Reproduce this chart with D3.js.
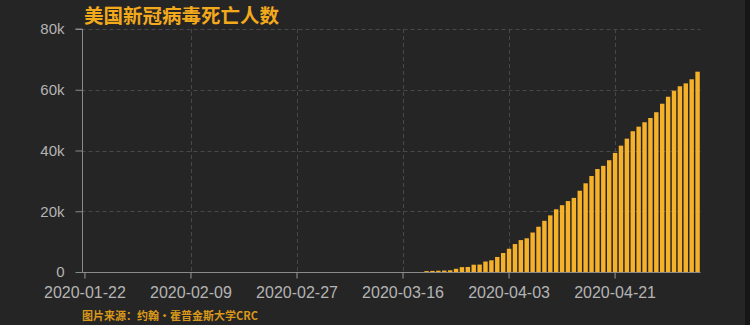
<!DOCTYPE html>
<html>
<head>
<meta charset="utf-8">
<script src="https://cdn.jsdelivr.net/npm/d3@7"></script>
<style>
    body { margin: 0; background: #252525; }
    svg { display: block; }
    text { font-family: "Liberation Sans", Arial, sans-serif; }
    .cjk { font-family: "Noto Sans CJK SC", sans-serif; }
</style>
</head>
<body>
<div id="chart"></div>
<script>
// first and last day shown, one bar per day
const startDate = '2020-01-22';
const endDate = '2020-05-05';

// cumulative deaths (one value per day)
const deaths = [
    0, 0, 0, 0, 0, 0, 0, 0, 0, 0,
    0, 0, 0, 0, 0, 0, 0, 0, 0, 0,
    0, 0, 0, 0, 0, 0, 0, 0, 0, 0,
    0, 0, 0, 0, 0, 0, 0, 0, 0, 0,
    0, 0, 0, 0, 0, 0, 0, 0, 0, 0,
    0, 0, 0, 0, 0, 0, 0, 0, 300, 360,
    420, 480, 560, 1050, 1600, 1650, 2400, 2450, 3450, 3850,
    4950, 6250, 7650, 9200, 10500, 11100, 13000, 14900, 16850, 18650,
    20650, 22000, 23350, 24400, 26750, 29200, 31600, 33900, 34950, 36800,
    39200, 41600, 43900, 46350, 47850, 49300, 50700, 52600, 55400, 57700,
    59700, 61150, 62100, 63450, 65950
];

const xTickLabels = ['2020-01-22', '2020-02-09', '2020-02-27', '2020-03-16', '2020-04-03', '2020-04-21'];
const yTicks = [0, 20000, 40000, 60000, 80000];

const titleText = '美国新冠病毒死亡人数';
const sourceText = '图片来源：约翰·霍普金斯大学CRC';

const config = { width: 750, height: 325 };
const margin = { left: 82, right: 49.5, top: 29, bottom: 53 };

const fmt = d3.utcFormat('%Y-%m-%d');
const dates = d3.utcDay.range(new Date(startDate), d3.utcDay.offset(new Date(endDate), 1)).map(fmt);
const data = dates.map((d, i) => ({ date: d, value: deaths[i] }));

const svg = d3.select('#chart')
    .append('svg')
    .attr('width', config.width)
    .attr('height', config.height);

svg.append('rect')
    .attr('width', config.width)
    .attr('height', config.height)
    .attr('fill', '#252525');

// dark strip on the far right edge
svg.append('rect')
    .attr('x', 745)
    .attr('width', 5)
    .attr('height', config.height)
    .attr('fill', '#161616');

const x = d3.scaleBand()
    .domain(dates)
    .range([margin.left, config.width - margin.right])
    .paddingInner(0.25)
    .paddingOuter(0.125);

const y = d3.scaleLinear()
    .domain([0, 80000])
    .range([config.height - margin.bottom, margin.top]);

const xc = d => x(d) + x.bandwidth() / 2;
const x0 = margin.left - 0.5;
const x1 = config.width - margin.right;
const yBase = y(0);

// grid
const grid = svg.append('g')
    .attr('stroke', '#484848')
    .attr('stroke-width', 1)
    .attr('stroke-dasharray', '4,3');

grid.selectAll('.hgrid')
    .data(yTicks.filter(d => d > 0))
    .join('line')
    .attr('class', 'hgrid')
    .attr('x1', x0)
    .attr('x2', x1)
    .attr('y1', d => Math.round(y(d)) + 0.5)
    .attr('y2', d => Math.round(y(d)) + 0.5);

grid.selectAll('.vgrid')
    .data(xTickLabels.slice(1))
    .join('line')
    .attr('class', 'vgrid')
    .attr('x1', d => Math.round(xc(d)) + 0.5)
    .attr('x2', d => Math.round(xc(d)) + 0.5)
    .attr('y1', y(80000))
    .attr('y2', yBase);

// bars
svg.append('g')
    .selectAll('rect')
    .data(data.filter(d => d.value > 0))
    .join('rect')
    .attr('x', d => x(d.date))
    .attr('width', x.bandwidth())
    .attr('y', d => y(d.value))
    .attr('height', d => yBase - y(d.value))
    .attr('fill', '#f6b12a');

// y axis
const yAxis = svg.append('g')
    .attr('transform', `translate(${Math.round(x0) + 0.5},0)`)
    .call(d3.axisLeft(y)
        .tickValues(yTicks)
        .tickSize(7)
        .tickPadding(11)
        .tickFormat(d => d === 0 ? '0' : `${d / 1000}k`));

yAxis.select('.domain')
    .attr('stroke', '#8a8a8a')
    .attr('d', `M-7,${y(80000)}H0V${yBase}`);
yAxis.selectAll('.tick line').attr('stroke', '#8a8a8a');
yAxis.selectAll('.tick text')
    .attr('fill', '#b4b4b4')
    .style('font-size', '15px');

// x axis
const xAxis = svg.append('g')
    .attr('transform', `translate(0,${Math.round(yBase) + 0.5})`)
    .call(d3.axisBottom(x)
        .tickValues(xTickLabels)
        .tickSize(6)
        .tickPadding(8));

xAxis.select('.domain')
    .attr('stroke', '#8a8a8a')
    .attr('d', `M${x0},0H${x1}`);
xAxis.selectAll('.tick line').attr('stroke', '#9a9a9a');
xAxis.selectAll('.tick text')
    .attr('fill', '#b4b4b4')
    .style('font-size', '16px');

// title and source
svg.append('text')
    .attr('class', 'cjk')
    .attr('x', 84)
    .attr('y', 22.5)
    .attr('fill', '#f2a91c')
    .style('font-size', '19.5px')
    .style('font-weight', 'bold')
    .text(titleText);

svg.append('text')
    .attr('class', 'cjk')
    .attr('x', 82)
    .attr('y', 320)
    .attr('fill', '#d9981a')
    .style('font-size', '11px')
    .style('font-weight', 'bold')
    .text(sourceText);
</script>
</body>
</html>
